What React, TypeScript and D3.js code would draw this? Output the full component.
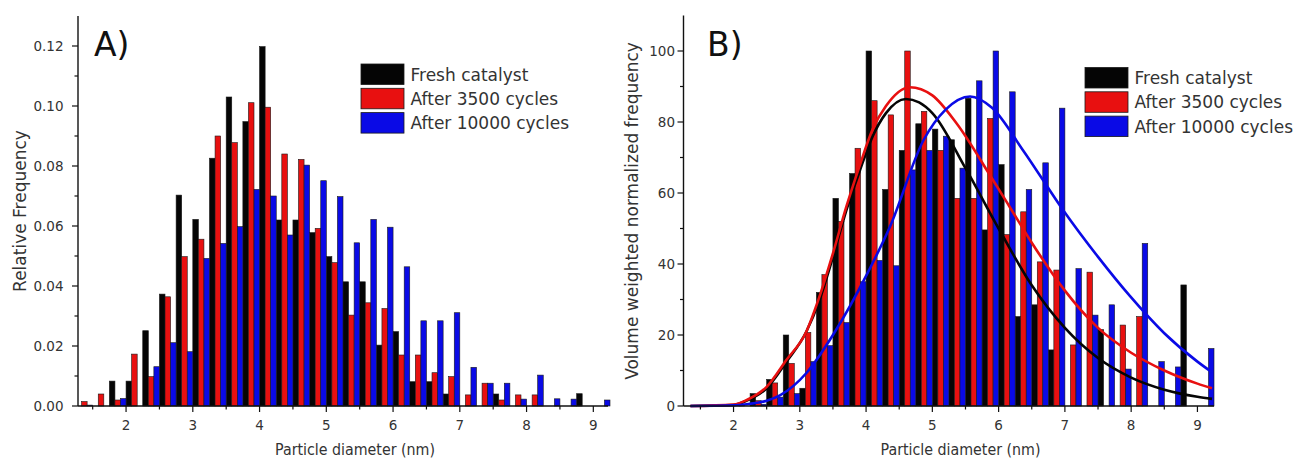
import React from 'react';
import * as d3 from 'd3';

// ---------- data ----------
const BIN_STARTS = [1.25, 1.5, 1.75, 2.0, 2.25, 2.5, 2.75, 3.0, 3.25, 3.5, 3.75, 4.0, 4.25, 4.5, 4.75, 5.0, 5.25, 5.5, 5.75, 6.0, 6.25, 6.5, 6.75, 7.0, 7.25, 7.5, 7.75, 8.0, 8.25, 8.5, 8.75, 9.0];
const BIN_WIDTH = 0.25;
const SERIES_NAMES = ['Fresh catalyst', 'After 3500 cycles', 'After 10000 cycles'];
const SERIES_COLORS = ['#050505', '#e81010', '#0a0ae6'];

// Panel A: relative frequency
const freshA = [0, 0, 0.0083, 0.0083, 0.0251, 0.0373, 0.0703, 0.0622, 0.0826, 0.103, 0.0948, 0.1198, 0.062, 0.062, 0.0578, 0.0498, 0.0414, 0.0414, 0.0203, 0.0248, 0.0081, 0.0081, 0.004, 0, 0, 0.004, 0, 0, 0, 0, 0.0041, 0];
const c3500A = [0.0015, 0.004, 0.002, 0.0173, 0.0098, 0.0364, 0.0498, 0.0556, 0.09, 0.0878, 0.1011, 0.0996, 0.084, 0.0822, 0.0592, 0.0478, 0.0303, 0.0344, 0.0325, 0.017, 0.017, 0.0111, 0.0098, 0.0037, 0.0076, 0.002, 0.0037, 0.0037, 0, 0, 0, 0];
const c10000A = [0.0003, 0, 0.0025, 0, 0.0131, 0.0211, 0.0181, 0.0492, 0.0542, 0.0598, 0.0722, 0.07, 0.057, 0.0803, 0.0751, 0.0698, 0.0544, 0.0622, 0.0596, 0.0464, 0.0284, 0.0284, 0.0311, 0.0129, 0.0076, 0.0076, 0.0023, 0.0103, 0.0024, 0.0023, 0, 0.002];

// Panel B: volume weighted normalized frequency
const freshB = [0, 0, 0, 0, 3.5, 7.5, 20, 5, 32, 58.5, 65.5, 100, 61, 72, 79.5, 78, 75, 86.7, 49.6, 68, 25.2, 28.5, 15.8, 0, 0, 21.5, 0, 0, 0, 0, 34.1, 0];
const c3500B = [0, 0, 0, 0.5, 1.5, 6.5, 12, 20.7, 37, 52, 72.6, 86, 82, 100, 83, 72, 58.5, 58.5, 81, 48.3, 54.7, 40.6, 38.3, 17.2, 37.7, 0, 22.8, 25.2, 0, 0, 0, 0];
const c10000B = [0, 0, 0, 0, 0.5, 2.5, 3.5, 12.5, 17, 23.5, 35, 41, 39.5, 66.5, 72, 76, 67, 91.6, 100, 88.5, 61, 68.5, 83.9, 38.7, 25.6, 28.5, 10.4, 45.8, 12.5, 11, 0, 16.2];

// Panel B fitted curves
const fitFreshX = [1.35, 2.0, 2.2, 2.5, 2.8, 3.1, 3.3, 3.5, 3.7, 3.9, 4.1, 4.3, 4.6, 4.8, 5.0, 5.5, 6.0, 6.5, 7.0, 7.5, 8.0, 8.5, 9.0, 9.22];
const fitFreshY = [0, 0.3, 1.5, 5, 12.5, 21, 30, 42, 55, 66, 76, 82.5, 86.5, 85.5, 82.5, 67, 50, 34, 22, 13.5, 8, 4.6, 2.6, 2.0];
const fit3500X = [1.35, 2.0, 2.2, 2.5, 2.8, 3.1, 3.3, 3.5, 3.7, 3.9, 4.1, 4.3, 4.66, 5.0, 5.37, 5.87, 6.17, 6.5, 7.0, 7.5, 8.0, 8.5, 9.0, 9.22];
const fit3500Y = [0, 0.4, 1.7, 5.4, 13, 21, 31, 43, 56, 67.5, 78, 84.5, 89.8, 87.5, 79.5, 65, 56, 46, 32.5, 22, 15, 10, 6.3, 5.0];
const fit10000X = [1.35, 2.0, 2.2, 2.5, 2.7, 3.1, 3.5, 4.01, 4.36, 4.87, 5.2, 5.57, 5.9, 6.37, 6.98, 7.5, 7.98, 8.5, 9.0, 9.22];
const fit10000Y = [0, 0.2, 0.5, 1.5, 3, 9.3, 20, 37, 50.5, 75, 83.5, 87.2, 84, 72, 55, 42, 31, 20.5, 12.5, 9.5];

// ticks
const xMajor = [2, 3, 4, 5, 6, 7, 8, 9];
const xMinorA = [1.5, 2.5, 3.5, 4.5, 5.5, 6.5, 7.5, 8.5];
const xMinorB = [1.5, 2.5, 3.5, 4.5, 5.5, 6.5, 7.5, 8.5];
const yMajorA = [0, 0.02, 0.04, 0.06, 0.08, 0.1, 0.12];
const yMinorA = [0.01, 0.03, 0.05, 0.07, 0.09, 0.11];
const yMajorB = [0, 20, 40, 60, 80, 100];
const yMinorB = [10, 30, 50, 70, 90];

const FONT = '"DejaVu Sans", Arial, sans-serif';
const TXT = '#333';

type PanelProps = {
  xDomain: [number, number];
  xRange: [number, number];
  yDomain: [number, number];
  yRange: [number, number];
  series: number[][];
  yMajor: number[];
  yMinor: number[];
  xMinor: number[];
  yFmt: (v: number) => string;
  yLabelRight: number;
  yTitle: string;
  yTitleX: number;
  xTitleX: number;
  tag: string;
  tagX: number;
  legendX: number;
  legendY: number;
  curves?: { x: number[]; y: number[]; color: string }[];
};

function Panel(p: PanelProps) {
  const x = d3.scaleLinear().domain(p.xDomain).range(p.xRange);
  const y = d3.scaleLinear().domain(p.yDomain).range(p.yRange);
  const y0 = y(0);
  const slot = BIN_WIDTH / 3;
  const line = d3.line<[number, number]>().x(d => x(d[0])).y(d => y(d[1])).curve(d3.curveMonotoneX);
  return (
    <g>
      {/* bars */}
      {p.series.map((vals, si) => (
        <g key={si}>
          {BIN_STARTS.map((b, i) => {
            const v = vals[i];
            if (!v) return null;
            const x0 = x(b + si * slot);
            const x1 = x(b + (si + 1) * slot);
            return (
              <rect key={i} x={x0} y={y(v)} width={x1 - x0} height={y0 - y(v)}
                fill={SERIES_COLORS[si]} stroke="#1a1a1a" strokeWidth={0.6} />
            );
          })}
        </g>
      ))}
      {/* curves */}
      {p.curves && p.curves.map((c, ci) => (
        <path key={ci} d={line(c.x.map((xx, k) => [xx, c.y[k]] as [number, number])) || ''}
          fill="none" stroke={c.color} strokeWidth={2.6} />
      ))}
      {/* axes */}
      <line x1={p.xRange[0]} x2={p.xRange[1]} y1={y0} y2={y0} stroke="#111" strokeWidth={1.4} />
      <line x1={p.xRange[0]} x2={p.xRange[0]} y1={y0} y2={p.yRange[1]} stroke="#111" strokeWidth={1.4} />
      {xMajor.map(t => (
        <g key={'xm' + t}>
          <line x1={x(t)} x2={x(t)} y1={y0} y2={y0 + 6} stroke="#111" strokeWidth={1.2} />
          <text x={x(t)} y={430} textAnchor="middle" fontFamily={FONT} fontSize={13.5} fill={TXT}>{t}</text>
        </g>
      ))}
      {p.xMinor.map(t => (
        <line key={'xn' + t} x1={x(t)} x2={x(t)} y1={y0} y2={y0 + 3.5} stroke="#111" strokeWidth={1.2} />
      ))}
      {p.yMajor.map(t => (
        <g key={'ym' + t}>
          <line x1={p.xRange[0] - 6} x2={p.xRange[0]} y1={y(t)} y2={y(t)} stroke="#111" strokeWidth={1.2} />
          <text x={p.yLabelRight} y={y(t)} dy="0.36em" textAnchor="end" fontFamily={FONT} fontSize={13.5} fill={TXT}>{p.yFmt(t)}</text>
        </g>
      ))}
      {p.yMinor.map(t => (
        <line key={'yn' + t} x1={p.xRange[0] - 3.5} x2={p.xRange[0]} y1={y(t)} y2={y(t)} stroke="#111" strokeWidth={1.2} />
      ))}
      {/* titles */}
      <text x={p.xTitleX} y={455} fontFamily={FONT} fontSize={16} fill={TXT} textLength={160} lengthAdjust="spacingAndGlyphs">Particle diameter (nm)</text>
      <text transform={`translate(${p.yTitleX},211) rotate(-90)`} textAnchor="middle" fontFamily={FONT} fontSize={17} fill={TXT}>{p.yTitle}</text>
      <text x={p.tagX} y={56} fontFamily={FONT} fontSize={33} fill="#111">{p.tag}</text>
      {/* legend */}
      {SERIES_NAMES.map((n, i) => (
        <g key={n}>
          <rect x={p.legendX} y={p.legendY + i * 24.3} width={43} height={20.5} fill={SERIES_COLORS[i]} stroke="#1a1a1a" strokeWidth={0.8} />
          <text x={p.legendX + 49.5} y={p.legendY + i * 24.3 + 16.5} fontFamily={FONT} fontSize={17} fill={TXT}>{n}</text>
        </g>
      ))}
    </g>
  );
}

export default function App() {
  return (
    <svg width={1298} height={465} style={{ position: 'absolute', left: 0, top: 0, background: '#fff' }}>
      <rect x={0} y={0} width={1298} height={465} fill="#fff" />
      <Panel
        xDomain={[1.28, 9.22]} xRange={[78, 608]}
        yDomain={[0, 0.13]} yRange={[406, 16]}
        series={[freshA, c3500A, c10000A]}
        yMajor={yMajorA} yMinor={yMinorA} xMinor={xMinorA}
        yFmt={d3.format('.2f')} yLabelRight={63.5}
        yTitle="Relative Frequency" yTitleX={25.7}
        xTitleX={275} tag="A)" tagX={94}
        legendX={361} legendY={64}
      />
      <Panel
        xDomain={[1.245, 9.25]} xRange={[683.5, 1214]}
        yDomain={[0, 110]} yRange={[406, 15.5]}
        series={[freshB, c3500B, c10000B]}
        yMajor={yMajorB} yMinor={yMinorB} xMinor={xMinorB}
        yFmt={d3.format('d')} yLabelRight={675}
        yTitle="Volume weighted normalized frequency" yTitleX={637.5}
        xTitleX={880.5} tag="B)" tagX={707}
        legendX={1085} legendY={67.5}
        curves={[
          { x: fitFreshX, y: fitFreshY, color: SERIES_COLORS[0] },
          { x: fit3500X, y: fit3500Y, color: SERIES_COLORS[1] },
          { x: fit10000X, y: fit10000Y, color: SERIES_COLORS[2] },
        ]}
      />
    </svg>
  );
}
